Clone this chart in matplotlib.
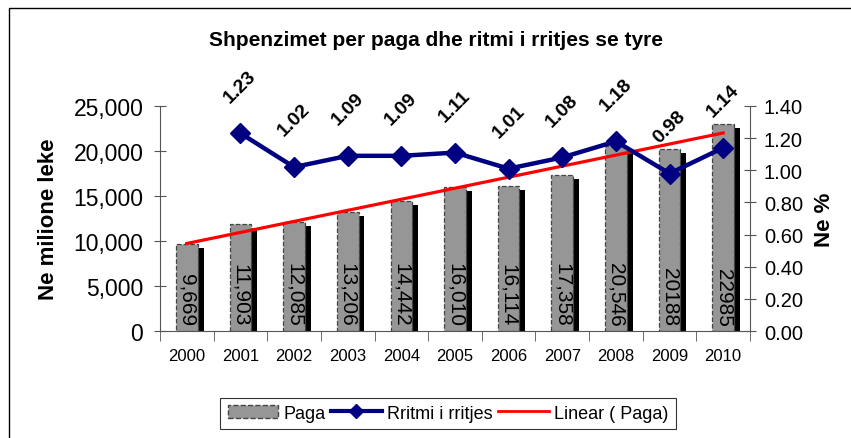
import matplotlib.pyplot as plt
import matplotlib.patches as mpatches
from matplotlib.lines import Line2D
from matplotlib.ticker import FuncFormatter, MultipleLocator, FixedLocator
import numpy as np

plt.rcParams['font.family'] = ['Liberation Sans', 'DejaVu Sans']

# data
years = ['2000', '2001', '2002', '2003', '2004', '2005', '2006', '2007', '2008', '2009', '2010']
paga = [9669, 11903, 12085, 13206, 14442, 16010, 16114, 17358, 20546, 20188, 22985]
paga_labels = ['9,669', '11,903', '12,085', '13,206', '14,442', '16,010', '16,114',
               '17,358', '20,546', '20188', '22985']
rritja_years = ['2001', '2002', '2003', '2004', '2005', '2006', '2007', '2008', '2009', '2010']
rritja = [1.23, 1.02, 1.09, 1.09, 1.11, 1.01, 1.08, 1.18, 0.98, 1.14]

x = np.arange(len(years))
xr = np.array([years.index(y) for y in rritja_years])

fig = plt.figure(figsize=(8.51, 4.39), dpi=100)
ax = fig.add_axes([160 / 851, 1 - 332 / 439, 590 / 851, 225 / 439])

# bars with a black shadow behind
bw = 0.405
ax.bar(x + 0.11, np.array(paga) - 450, width=bw, color='black', zorder=1)
ax.bar(x, paga, width=bw, color='#969696', edgecolor='#444444', linestyle='--',
       linewidth=0.9, zorder=2)
for xi, lab in zip(x, paga_labels):
    ax.text(xi, 600, lab, rotation=270, ha='center', va='bottom', fontsize=15, zorder=5)

# linear trend of Paga
k, b = np.polyfit(x, paga, 1)
ax.plot([x[0], x[-1]], [k * x[0] + b, k * x[-1] + b], color='red', lw=2.3, zorder=4)

ax.set_xlim(-0.5, len(years) - 0.5)
ax.set_ylim(0, 25000)
ax.yaxis.set_major_locator(MultipleLocator(5000))
ax.yaxis.set_major_formatter(FuncFormatter(lambda v, p: f'{int(v):,}'))
ax.tick_params(axis='y', labelsize=16.5, direction='inout', length=8, color='#555555', pad=8)
ax.set_xticks(x)
ax.set_xticklabels(years)
ax.xaxis.set_minor_locator(FixedLocator(np.arange(-0.5, len(years), 1)))
ax.tick_params(axis='x', which='major', length=0, labelsize=12, pad=12)
ax.tick_params(axis='x', which='minor', length=7, direction='out', color='#555555')
for s in ['top', 'right']:
    ax.spines[s].set_visible(False)
for s in ['left', 'bottom']:
    ax.spines[s].set_color('#555555')
ax.set_ylabel('Ne milione leke', fontsize=16, fontweight='bold', labelpad=10)

# growth rate on the right axis
ax2 = ax.twinx()
ax2.plot(xr, rritja, color='#000080', lw=3.2, marker='D', markersize=10, zorder=6)
for xi, v in zip(xr, rritja):
    ax2.annotate(f'{v:.2f}', (xi, v), xytext=(0, 20), textcoords='offset points',
                 rotation=45, ha='center', va='bottom', fontsize=14, fontweight='bold')
ax2.set_ylim(0, 1.4)
ax2.yaxis.set_major_locator(MultipleLocator(0.2))
ax2.yaxis.set_major_formatter(FuncFormatter(lambda v, p: f'{v:.2f}'))
ax2.tick_params(axis='y', labelsize=14.5, direction='inout', length=8, color='#555555', pad=6)
for s in ['top', 'left', 'bottom']:
    ax2.spines[s].set_visible(False)
ax2.spines['right'].set_color('#555555')
ax2.set_ylabel('Ne %', fontsize=16, fontweight='bold', labelpad=8)

fig.text(436 / 851, 1 - 40 / 439, 'Shpenzimet per paga dhe ritmi i rritjes se tyre',
         ha='center', va='center', fontsize=15, fontweight='bold')

handles = [
    mpatches.Patch(facecolor='#969696', edgecolor='#444444', linestyle='--', label='Paga'),
    Line2D([], [], color='#000080', lw=3, marker='D', markersize=7, label='Rritmi i rritjes'),
    Line2D([], [], color='red', lw=2, label='Linear ( Paga)'),
]
leg = fig.legend(handles=handles, loc='lower center', bbox_to_anchor=(448 / 851, 0.0),
                 ncol=3, fontsize=13, frameon=True, fancybox=False, edgecolor='black',
                 handlelength=2.8, columnspacing=0.3, handletextpad=0.3, borderpad=0.4)
leg.get_frame().set_linewidth(0.8)

# outer chart border (clipped at right/bottom as in the original)
fig.patches.append(mpatches.Rectangle((9 / 851, -0.1), 1.0, 1 - 9 / 439 + 0.1,
                                      transform=fig.transFigure, fill=False,
                                      edgecolor='black', lw=1))

fig.savefig('out.png', dpi=100)
